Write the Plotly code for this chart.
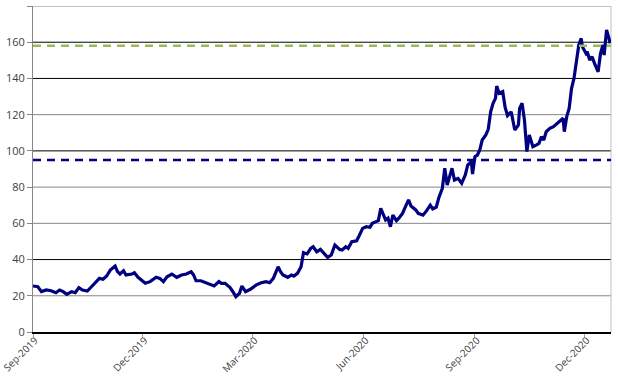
import plotly.graph_objects as go

dates = [
    "2019-09-01", "2019-09-05", "2019-09-08", "2019-09-12", "2019-09-16", "2019-09-20",
    "2019-09-23", "2019-09-26", "2019-09-29", "2019-10-03", "2019-10-06", "2019-10-09",
    "2019-10-12", "2019-10-16", "2019-10-19", "2019-10-22", "2019-10-26", "2019-10-29",
    "2019-11-01", "2019-11-04", "2019-11-08", "2019-11-10", "2019-11-12", "2019-11-15",
    "2019-11-17", "2019-11-22", "2019-11-24", "2019-11-27", "2019-12-03", "2019-12-07",
    "2019-12-12", "2019-12-15", "2019-12-18", "2019-12-21", "2019-12-25", "2019-12-29",
    "2020-01-02", "2020-01-06", "2020-01-10", "2020-01-12", "2020-01-14", "2020-01-18",
    "2020-01-22", "2020-01-26", "2020-01-29", "2020-02-02", "2020-02-04", "2020-02-07",
    "2020-02-11", "2020-02-13", "2020-02-16", "2020-02-19", "2020-02-21", "2020-02-24",
    "2020-02-28", "2020-03-04", "2020-03-08", "2020-03-12", "2020-03-15", "2020-03-18",
    "2020-03-20", "2020-03-22", "2020-03-24", "2020-03-26", "2020-03-30", "2020-04-02",
    "2020-04-04", "2020-04-07", "2020-04-10", "2020-04-12", "2020-04-15", "2020-04-18",
    "2020-04-20", "2020-04-23", "2020-04-26", "2020-04-29", "2020-05-02", "2020-05-05",
    "2020-05-08", "2020-05-12", "2020-05-14", "2020-05-17", "2020-05-19", "2020-05-22",
    "2020-05-26", "2020-05-28", "2020-05-31", "2020-06-03", "2020-06-06", "2020-06-08",
    "2020-06-11", "2020-06-13", "2020-06-15", "2020-06-17", "2020-06-19", "2020-06-21",
    "2020-06-23", "2020-06-25", "2020-06-28", "2020-06-30", "2020-07-03", "2020-07-06",
    "2020-07-08", "2020-07-10", "2020-07-14", "2020-07-16", "2020-07-20", "2020-07-23",
    "2020-07-26", "2020-07-28", "2020-07-31", "2020-08-02", "2020-08-05", "2020-08-07",
    "2020-08-09", "2020-08-11", "2020-08-13", "2020-08-15", "2020-08-18", "2020-08-21",
    "2020-08-24", "2020-08-26", "2020-08-29", "2020-08-30", "2020-09-01", "2020-09-03",
    "2020-09-05", "2020-09-07", "2020-09-10", "2020-09-12", "2020-09-14", "2020-09-16",
    "2020-09-18", "2020-09-19", "2020-09-21", "2020-09-24", "2020-09-26", "2020-09-28",
    "2020-10-01", "2020-10-04", "2020-10-07", "2020-10-08", "2020-10-10", "2020-10-12",
    "2020-10-14", "2020-10-16", "2020-10-19", "2020-10-22", "2020-10-24", "2020-10-26",
    "2020-10-28", "2020-10-30", "2020-11-02", "2020-11-05", "2020-11-08", "2020-11-10",
    "2020-11-13", "2020-11-14", "2020-11-16", "2020-11-18", "2020-11-20", "2020-11-22",
    "2020-11-24", "2020-11-26", "2020-11-28", "2020-11-29", "2020-12-02", "2020-12-03",
    "2020-12-05", "2020-12-07", "2020-12-09", "2020-12-12", "2020-12-14", "2020-12-16",
    "2020-12-17", "2020-12-19", "2020-12-21", "2020-12-22",
]

prices = [
    25.4, 25.0, 22.3, 23.2, 22.8, 21.7,
    23.2, 22.3, 20.8, 22.3, 21.7, 24.5,
    23.2, 22.6, 24.7, 26.9, 29.6, 29.1,
    30.9, 34.2, 36.4, 33.3, 32.0, 33.8,
    31.5, 32.0, 32.7, 30.2, 26.9, 27.8,
    30.2, 29.6, 27.8, 30.5, 32.0, 30.2,
    31.5, 32.0, 33.3, 31.5, 28.3, 28.3,
    27.2, 26.5, 25.4, 27.8, 26.9, 26.9,
    24.7, 22.8, 19.5, 21.4, 25.4, 22.3,
    23.6, 26.0, 27.2, 27.8, 27.2, 29.6,
    33.3, 36.0, 33.3, 31.5, 30.2, 31.5,
    30.9, 32.4, 36.0, 43.8, 43.1, 46.2,
    47.1, 44.3, 45.6, 43.4, 41.2, 42.5,
    48.0, 45.6, 45.3, 47.1, 46.2, 49.9,
    50.4, 53.0, 57.2, 58.1, 57.8, 60.0,
    60.9, 61.5, 68.3, 64.6, 61.8, 62.8,
    58.1, 64.6, 61.5, 62.8, 65.5, 70.1,
    72.9, 69.6, 67.4, 65.5, 64.5, 67.0,
    70.0, 68.0, 69.0, 74.0, 79.3, 90.4,
    81.2, 85.8, 90.4, 83.9, 84.8, 82.1,
    86.7, 92.2, 94.0, 87.2, 96.8, 97.7,
    100.5, 106.0, 108.8, 111.9, 121.6, 126.3,
    129.0, 135.8, 131.8, 132.7, 124.0, 119.5,
    121.6, 111.5, 114.3, 123.5, 126.3, 117.0,
    99.6, 108.8, 102.3, 103.3, 104.1, 107.8,
    106.0, 110.6, 112.4, 113.4, 115.2, 116.1,
    118.0, 110.6, 118.9, 123.5, 134.5, 140.0,
    148.3, 158.5, 162.1, 157.5, 153.8, 154.7,
    150.2, 152.0, 148.3, 143.7, 153.8, 158.5,
    152.9, 166.8, 162.1, 159.4,
]

ref_levels = [95, 158]
ref_colors = ["#000080", "#9BBB59"]

tick_dates = ["2019-09-01", "2019-12-01", "2020-03-01", "2020-06-01", "2020-09-01", "2020-12-01"]
tick_labels = ["Sep-2019", "Dec-2019", "Mar-2020", "Jun-2020", "Sep-2020", "Dec-2020"]

grid_gray = [20, 60, 80, 120, 180]
grid_black = [40, 100, 140, 160]

x_range = ["2019-09-01", "2020-12-22 16:00"]

fig = go.Figure()

shapes = []
for g in grid_gray:
    shapes.append(dict(type="line", xref="paper", yref="y", x0=0, x1=1, y0=g, y1=g,
                       line=dict(color="#868686", width=1), layer="below"))
for g in grid_black:
    shapes.append(dict(type="line", xref="paper", yref="y", x0=0, x1=1, y0=g, y1=g,
                       line=dict(color="#000000", width=1), layer="below"))
# right border
shapes.append(dict(type="line", xref="paper", yref="paper", x0=1, x1=1, y0=0, y1=1,
                   line=dict(color="#BFBFBF", width=1), layer="below"))

fig.add_trace(go.Scatter(x=dates, y=prices, mode="lines",
                         line=dict(color="#000080", width=3.2), showlegend=False,
                         hoverinfo="x+y"))

for lvl, col in zip(ref_levels, ref_colors):
    fig.add_trace(go.Scatter(x=x_range, y=[lvl, lvl], mode="lines",
                             line=dict(color=col, width=2.5, dash="8px,6px"),
                             showlegend=False, hoverinfo="skip"))

fig.update_layout(
    width=618, height=379,
    margin=dict(l=33, r=7, t=6, b=47),
    paper_bgcolor="white", plot_bgcolor="white",
    shapes=shapes,
    font=dict(family="Open Sans, DejaVu Sans, sans-serif", size=10, color="#404040"),
    xaxis=dict(
        type="date", range=x_range, automargin=False,
        tickmode="array", tickvals=tick_dates, ticktext=tick_labels,
        tickangle=-45, ticks="outside", ticklen=4, tickcolor="#A6A6A6",
        ticklabeloverflow="allow", ticklabelstandoff=-7, ticklabelshift=2,
        showgrid=False, zeroline=False,
        showline=True, linecolor="#000000", linewidth=1.5,
        tickfont=dict(size=10, color="#404040"),
    ),
    yaxis=dict(
        range=[0, 180], tickmode="array", tickvals=list(range(0, 181, 20)),
        automargin=False,
        ticks="outside", ticklen=5, tickcolor="#868686",
        showgrid=False, zeroline=False,
        showline=True, linecolor="#868686", linewidth=1,
        tickfont=dict(size=11, color="#404040"),
    ),
)

fig.write_html("out.html")
